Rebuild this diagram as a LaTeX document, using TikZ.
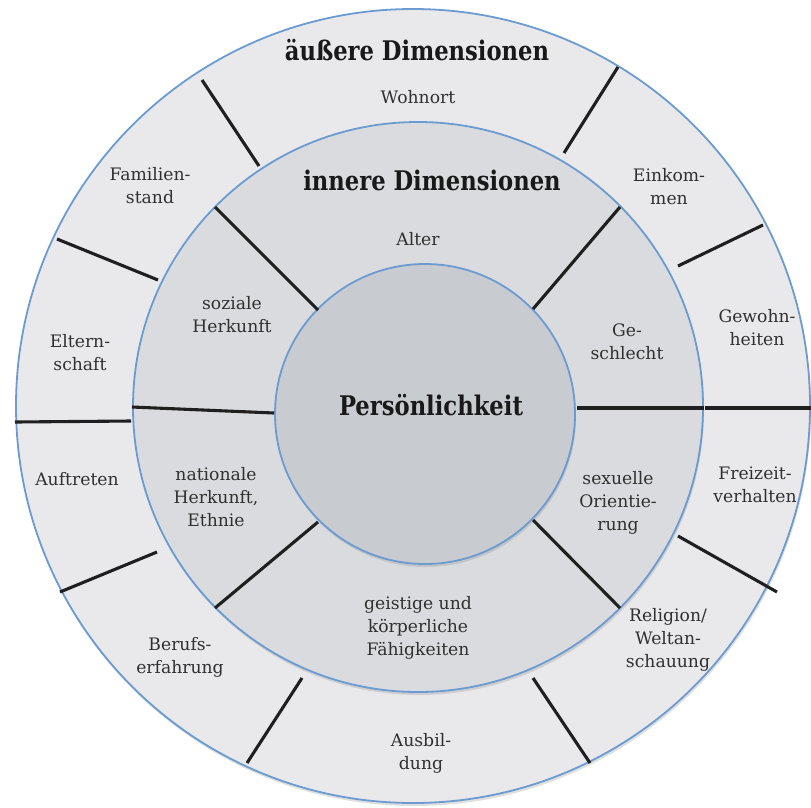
\documentclass[tikz,border=0pt]{standalone}
\usepackage{graphicx}
\usepackage{fontspec}
\setmainfont{DejaVu Serif}
\usetikzlibrary{shadows}
\definecolor{ringblue}{HTML}{6B9BD1}
\definecolor{outerfill}{HTML}{E9E9EC}
\definecolor{midfill}{HTML}{DADBDE}
\definecolor{innerfill}{HTML}{C8CBD0}
\definecolor{labelgray}{HTML}{303030}
\newcommand{\headtxt}[1]{\scalebox{0.84}[1]{#1}}
\begin{document}
\begin{tikzpicture}[x=1pt,y=-1pt,
  ring/.style={circle, draw=ringblue, line width=1.8pt, inner sep=0pt,
    drop shadow={shadow xshift=1pt, shadow yshift=-3pt, opacity=0.25}},
  divider/.style={line width=3.1pt, draw=black!88},
  lbl/.style={align=center, text=labelgray, font=\fontsize{17.2}{23}\selectfont, inner sep=0pt},
  head/.style={text=black!90, font=\bfseries\fontsize{27}{30}\selectfont, inner sep=0pt}]
\useasboundingbox (0,0) rectangle (811,807);
\fill[white] (0,0) rectangle (811,807);
\node[ring, fill=outerfill, minimum size=794pt] (outer) at (413,406) {};
\node[ring, fill=midfill, minimum size=570pt] (middle) at (418,407) {};
\node[ring, fill=innerfill, minimum size=300pt] (inner) at (425,414) {};
% outer ring dividers
\draw[divider] (202,80) -- (259,166);
\draw[divider] (618,67) -- (564,153);
\draw[divider] (763,225) -- (678,266);
\draw[divider] (705,408) -- (811,408);
\draw[divider] (678,536) -- (777,592);
\draw[divider] (533,678) -- (590,763);
\draw[divider] (302,678) -- (247,763);
\draw[divider] (157,552) -- (60,592);
\draw[divider] (15,422) -- (131,421);
\draw[divider] (57,239) -- (158,280);
% inner ring dividers
\draw[divider] (215,207) -- (318,310);
\draw[divider] (620,207) -- (533,309);
\draw[divider] (577,408) -- (704,408);
\draw[divider] (533,520) -- (620,608);
\draw[divider] (318,522) -- (215,608);
\draw[divider] (132,407) -- (274,413);
% headings
\node[head] (hout) at (417,50) {\headtxt{äußere Dimensionen}};
\node[head] (hin) at (432,180) {\headtxt{innere Dimensionen}};
\node[head] (hpers) at (431,405) {\headtxt{Persönlichkeit}};
% labels
\node[lbl] (wohnort) at (418,97) {Wohnort};
\node[lbl] (alter) at (418,239) {Alter};
\node[lbl] (familie) at (150,186) {Familien-\\stand};
\node[lbl] (einkommen) at (669,187) {Einkom-\\men};
\node[lbl] (sozial) at (232,315) {soziale\\Herkunft};
\node[lbl] (geschlecht) at (627,342) {Ge-\\schlecht};
\node[lbl] (eltern) at (80,353) {Eltern-\\schaft};
\node[lbl] (gewohn) at (757,328) {Gewohn-\\heiten};
\node[lbl] (auftreten) at (77,479) {Auftreten};
\node[lbl] (national) at (216,497) {nationale\\Herkunft,\\Ethnie};
\node[lbl] (sexuell) at (618,503) {sexuelle\\Orientie-\\rung};
\node[lbl] (freizeit) at (755,485) {Freizeit-\\verhalten};
\node[lbl] (geistig) at (418,628) {geistige und\\körperliche\\Fähigkeiten};
\node[lbl] (religion) at (668,640) {Religion/\\Weltan-\\schauung};
\node[lbl] (beruf) at (180,657) {Berufs-\\erfahrung};
\node[lbl] (ausbildung) at (421,753) {Ausbil-\\dung};
\end{tikzpicture}
\end{document}
